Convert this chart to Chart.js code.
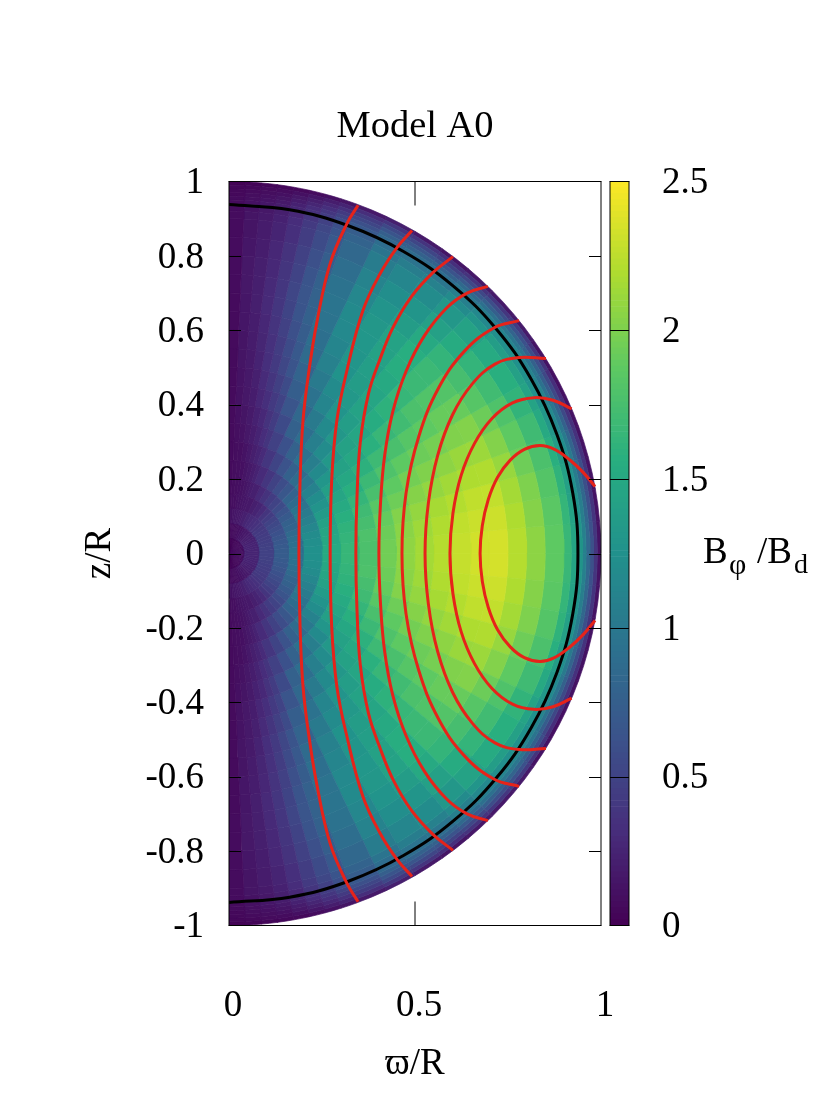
<!DOCTYPE html>
<html><head><meta charset="utf-8">
<script src="https://cdn.jsdelivr.net/npm/chart.js@4"></script>
<style>
html,body{margin:0;padding:0;background:#fff;width:830px;height:1107px;overflow:hidden}
canvas{position:absolute;left:0;top:0}
.lab{position:absolute;font-family:"Liberation Serif",serif;color:#000;white-space:pre;line-height:1}
</style></head><body>
<canvas id="main" width="830" height="1107"></canvas>
<canvas id="bar" width="830" height="1107"></canvas>
<div class="lab" style="left:703px;top:532px;font-size:37px">B</div>
<div class="lab" style="left:729px;top:549px;font-size:30px">φ</div>
<div class="lab" style="left:757px;top:532px;font-size:37px">/B</div>
<div class="lab" style="left:794px;top:550px;font-size:28px">d</div>
<script>
const titleText = 'Model A0';
const xTitleText = 'ϖ/R';
const yTitleText = 'z/R';
const xTicks = [0, 0.5, 1];
const yTicks = [-1, -0.8, -0.6, -0.4, -0.2, 0, 0.2, 0.4, 0.6, 0.8, 1];
const cbTicks = [0, 0.5, 1, 1.5, 2, 2.5];
const viridis = ['#440154','#472d7b','#3b528b','#2c728e','#21918c','#28ae80','#5ec962','#addc30','#fde725'];

// radial cell edges (r/R)
const ringEdges = [0,.04,.08,.12,.16,.2,.25,.3,.35,.4,.45,.5,.55,.6,.65,.7,.75,.8,.85,.9,.92,.94,.95,.96,.97,.98,.99,1];
// polar-angle cell edges, degrees from the +z axis
const sectorEdges = [0,2.5,5,7.5,10,12.5,15,17.5,20,25,30,35,40,45,50,55,60,65,70,75,80,85,90];
// B_phi/B_d read per sector (rows) and ring (columns)
const fieldCells = [
[.03,.07,.12,.09,.08,.07,.07,.07,.07,.07,.07,.07,.07,.07,.07,.08,.08,.08,.08,.08,.08,.07,.07,.06,.05,.04,.02],
[.03,.07,.13,.1,.09,.09,.09,.1,.11,.12,.13,.14,.14,.15,.15,.16,.16,.15,.14,.14,.12,.11,.1,.09,.07,.05,.03],
[.03,.08,.14,.1,.1,.1,.1,.12,.14,.16,.17,.18,.19,.2,.21,.21,.21,.2,.19,.18,.16,.15,.13,.11,.09,.07,.04],
[.03,.08,.15,.12,.11,.11,.13,.16,.18,.2,.22,.24,.26,.27,.29,.29,.28,.27,.25,.23,.21,.19,.17,.14,.11,.08,.05],
[.04,.09,.16,.13,.12,.14,.17,.2,.23,.27,.3,.33,.35,.37,.39,.39,.38,.36,.33,.31,.28,.26,.23,.19,.16,.11,.06],
[.04,.09,.17,.14,.14,.17,.21,.25,.28,.33,.38,.42,.45,.48,.51,.52,.5,.48,.45,.42,.38,.34,.31,.26,.21,.15,.08],
[.04,.1,.18,.15,.17,.2,.25,.31,.36,.42,.47,.53,.57,.61,.64,.65,.64,.61,.57,.53,.48,.44,.39,.33,.27,.2,.11],
[.04,.1,.2,.16,.2,.24,.3,.38,.44,.5,.57,.64,.69,.73,.77,.78,.77,.74,.69,.64,.6,.56,.49,.42,.34,.25,.14],
[.05,.11,.22,.17,.22,.3,.39,.48,.56,.65,.74,.8,.87,.91,.95,.96,.94,.9,.84,.79,.73,.68,.61,.52,.44,.32,.17],
[.05,.13,.26,.21,.29,.39,.51,.62,.77,.84,.94,1.02,1.09,1.13,1.17,1.18,1.15,1.11,1.04,.96,.89,.83,.75,.64,.54,.39,.21],
[.06,.15,.29,.25,.36,.49,.63,.78,.91,1.02,1.13,1.19,1.27,1.29,1.31,1.32,1.28,1.22,1.14,1.05,.95,.88,.77,.65,.52,.37,.17],
[.06,.17,.32,.3,.44,.58,.77,.93,1.07,1.18,1.28,1.33,1.37,1.39,1.42,1.43,1.37,1.29,1.2,1.09,.97,.89,.77,.63,.49,.33,.14],
[.07,.18,.35,.38,.5,.67,.88,1.06,1.2,1.32,1.38,1.43,1.47,1.51,1.55,1.56,1.51,1.41,1.32,1.19,1.07,.97,.85,.69,.53,.36,.16],
[.07,.2,.38,.44,.57,.79,1,1.18,1.33,1.42,1.47,1.54,1.6,1.65,1.68,1.68,1.63,1.53,1.43,1.29,1.16,1.05,.92,.75,.58,.39,.17],
[.08,.21,.41,.5,.64,.87,1.1,1.3,1.42,1.49,1.58,1.66,1.71,1.77,1.8,1.81,1.74,1.63,1.52,1.38,1.23,1.12,.98,.8,.62,.42,.18],
[.08,.22,.42,.54,.7,.96,1.21,1.4,1.49,1.59,1.69,1.76,1.83,1.87,1.91,1.91,1.83,1.71,1.57,1.41,1.25,1.11,.96,.77,.58,.36,.13],
[.08,.23,.44,.58,.77,1.03,1.28,1.47,1.57,1.68,1.79,1.87,1.93,1.97,2.01,2.02,1.93,1.79,1.62,1.44,1.26,1.12,.93,.73,.53,.32,.11],
[.09,.24,.45,.62,.8,1.09,1.36,1.52,1.64,1.76,1.87,1.96,2.01,2.06,2.11,2.12,2.02,1.87,1.7,1.51,1.32,1.17,.98,.77,.55,.34,.12],
[.09,.24,.46,.65,.86,1.15,1.42,1.57,1.7,1.84,1.94,2.03,2.09,2.14,2.19,2.2,2.1,1.94,1.77,1.57,1.37,1.22,1.02,.8,.57,.35,.12],
[.1,.25,.47,.68,.9,1.2,1.47,1.61,1.74,1.9,2.02,2.09,2.16,2.21,2.26,2.27,2.15,2,1.82,1.61,1.41,1.25,1.04,.82,.59,.36,.12],
[.1,.25,.48,.7,.92,1.23,1.49,1.63,1.78,1.93,2.05,2.13,2.2,2.26,2.3,2.31,2.19,2.03,1.85,1.64,1.43,1.27,1.06,.83,.6,.37,.13],
[.1,.25,.48,.72,.95,1.25,1.52,1.65,1.77,1.95,2.07,2.15,2.22,2.28,2.33,2.34,2.22,2.06,1.87,1.66,1.45,1.29,1.08,.84,.61,.37,.13]
];

// field lines (upper half, mirrored across the equator)
const line1X = [.188,.191,.199,.215,.237,.272,.317,.347];
const line1Z = [0,.196,.358,.492,.626,.78,.887,.936];
const line2X = [.272,.276,.29,.317,.36,.405,.452,.492];
const line2Z = [0,.196,.358,.492,.653,.75,.823,.868];
const line3X = [.341,.344,.353,.375,.405,.441,.49,.548,.602];
const line3Z = [0,.15,.3,.43,.52,.608,.69,.755,.798];
const line4X = [.403,.407,.418,.44,.476,.525,.585,.64,.696];
const line4Z = [0,.13,.26,.38,.49,.585,.66,.7,.718];
const line5X = [.465,.476,.51,.563,.633,.713,.78];
const line5Z = [0,.163,.314,.444,.544,.607,.626];
const line6X = [.527,.536,.561,.601,.654,.715,.78,.852];
const line6Z = [0,.136,.264,.373,.456,.509,.527,.524];
const line7X = [.594,.602,.624,.66,.707,.762,.82,.871,.921];
const line7Z = [0,.108,.21,.296,.363,.405,.419,.412,.389];
const line8X = [.675,.681,.697,.722,.756,.794,.836,.875,.918,.952,.984];
const line8Z = [0,.075,.145,.205,.251,.28,.29,.28,.25,.218,.18];
const redLines = [[line1X,line1Z],[line2X,line2Z],[line3X,line3Z],[line4X,line4Z],[line5X,line5Z],[line6X,line6Z],[line7X,line7Z],[line8X,line8Z]];
const blackX = [0,.163,.321,.469,.603,.719,.812,.881,.924,.938];
const blackZ = [.938,.924,.881,.812,.719,.603,.469,.321,.163,0];

function hex(h){return [1,3,5].map(i=>parseInt(h.substr(i,2),16));}
function colour(v){
  const t=Math.max(0,Math.min(1,v/2.5))*(viridis.length-1);
  const i=Math.min(viridis.length-2,Math.floor(t)),f=t-i;
  const a=hex(viridis[i]),b=hex(viridis[i+1]);
  return 'rgb('+a.map((c,k)=>Math.round(c+(b[k]-c)*f)).join(',')+')';
}
const FONT='"Liberation Serif"';
const FS=37;

const datasets=[];
{
  const up=blackX.map((x,i)=>({x,y:blackZ[i]}));
  const down=up.slice(0,-1).reverse().map(p=>({x:p.x,y:-p.y}));
  datasets.push({label:'crust',data:up.concat(down),showLine:true,pointRadius:0,borderColor:'#000',borderWidth:3,tension:.4,fill:false});
}
redLines.forEach((l,k)=>{
  const up=l[0].map((x,i)=>({x,y:l[1][i]})).reverse();
  const down=l[0].slice(1).map((x,i)=>({x,y:-l[1][i+1]}));
  datasets.unshift({label:'field line '+(k+1),data:up.concat(down),showLine:true,pointRadius:0,borderColor:'#e6231a',borderWidth:3,tension:.4,fill:false});
});
[1,-1].forEach(sign=>{
  fieldCells.forEach((row,s)=>{
    const t0=sectorEdges[s]*Math.PI/180,t1=sectorEdges[s+1]*Math.PI/180,tm=(t0+t1)/2;
    row.forEach((v,k)=>{
      const r0=ringEdges[k],r1=ringEdges[k+1];
      const pt=(r,t)=>({x:r*Math.sin(t),y:sign*r*Math.cos(t)});
      const c=colour(v);
      datasets.push({data:[pt(r1,t0),pt(r1,tm),pt(r1,t1),pt(r0,t1),pt(r0,tm),pt(r0,t0),pt(r1,t0)],
        showLine:true,pointRadius:0,borderColor:c,backgroundColor:c,borderWidth:.7,tension:0,fill:'shape'});
    });
  });
});

function frame(ctx,a){
  ctx.save();ctx.strokeStyle='#000';ctx.lineWidth=1;
  ctx.beginPath();
  ctx.moveTo(a.left,a.top);ctx.lineTo(a.left,a.bottom);
  ctx.moveTo(a.right,a.top);ctx.lineTo(a.right,a.bottom);
  ctx.moveTo(a.left-.5,a.top);ctx.lineTo(a.right+.5,a.top);
  ctx.moveTo(a.left-.5,a.bottom);ctx.lineTo(a.right+.5,a.bottom);
  ctx.stroke();ctx.restore();
}
const mainDeco={id:'mainDeco',afterDatasetsDraw(ch){
  const c=ch.ctx,a=ch.chartArea;
  c.save();c.strokeStyle='#000';c.lineWidth=1;c.beginPath();
  ch.scales.y.ticks.forEach(t=>{
    if(t.value===1||t.value===-1)return;
    const y=Math.round(ch.scales.y.getPixelForValue(t.value))+.5;
    c.moveTo(a.left,y);c.lineTo(a.left+12,y);c.moveTo(a.right,y);c.lineTo(a.right-12,y);
  });
  c.stroke();c.beginPath();
  ch.scales.x.ticks.forEach(t=>{
    if(t.value===0||t.value===1)return;
    const x=Math.round(ch.scales.x.getPixelForValue(t.value));
    c.moveTo(x,a.top);c.lineTo(x,a.top+24);c.moveTo(x,a.bottom);c.lineTo(x,a.bottom-24);
  });
  c.stroke();c.restore();
  frame(c,a);
}};
new Chart(document.getElementById('main'),{
  type:'scatter',
  data:{datasets},
  plugins:[mainDeco],
  options:{
    responsive:false,animation:false,events:[],
    layout:{padding:0},
    plugins:{legend:{display:false},tooltip:{enabled:false},
      title:{display:true,text:titleText,color:'#000',font:{family:FONT,size:38.5,weight:'normal'},padding:{top:104,bottom:31.3}}},
    scales:{
      x:{type:'linear',min:0,max:1,
        afterBuildTicks:s=>{s.ticks=xTicks.map(v=>({value:v}));},
        afterFit:s=>{s.height=181.5;},
        grid:{display:false},border:{display:false},
        ticks:{color:'#000',font:{family:FONT,size:FS},padding:51,labelOffset:4,maxRotation:0,callback:v=>String(v)},
        title:{display:true,text:xTitleText,color:'#000',font:{family:FONT,size:FS},padding:{top:0,bottom:21}}},
      y:{type:'linear',min:-1,max:1,
        afterBuildTicks:s=>{s.ticks=yTicks.map(v=>({value:v}));},
        afterFit:s=>{s.width=229;},
        grid:{display:false},border:{display:false},
        ticks:{color:'#000',font:{family:FONT,size:FS},padding:17,labelOffset:2,callback:v=>String(v)},
        title:{display:true,text:yTitleText,color:'#000',font:{family:FONT,size:FS},padding:{top:78,bottom:0}}},
      spacer:{type:'linear',position:'right',min:0,max:1,
        afterFit:s=>{s.width=229;},
        grid:{display:false},border:{display:false},ticks:{display:false}}
    }
  }
});

const cbStep=0.02, cbMax=2.5;
const cbSets=[];
for(let i=0;i<Math.round(cbMax/cbStep);i++){
  cbSets.push({data:[cbStep],backgroundColor:colour((i+.5)*cbStep),stack:'cb',barPercentage:1,categoryPercentage:1,borderWidth:0});
}
const barDeco={id:'barDeco',afterDatasetsDraw(ch){
  const c=ch.ctx,a=ch.chartArea;
  c.save();c.strokeStyle='#000';c.lineWidth=1;c.beginPath();
  ch.scales.y.ticks.forEach(t=>{
    if(t.value===0||t.value===2.5)return;
    const y=Math.round(ch.scales.y.getPixelForValue(t.value))+.5;
    c.moveTo(a.left,y);c.lineTo(a.right,y);
  });
  c.stroke();c.restore();
  frame(c,a);
}};
new Chart(document.getElementById('bar'),{
  type:'bar',
  data:{labels:[''],datasets:cbSets},
  plugins:[barDeco],
  options:{
    responsive:false,animation:false,events:[],
    layout:{padding:{left:610,right:0,top:181.5,bottom:181.5}},
    plugins:{legend:{display:false},tooltip:{enabled:false},title:{display:false}},
    scales:{
      x:{stacked:true,display:false,grid:{display:false}},
      y:{stacked:true,position:'right',min:0,max:2.5,
        afterBuildTicks:s=>{s.ticks=cbTicks.map(v=>({value:v}));},
        afterFit:s=>{s.width=201;},
        grid:{display:false},border:{display:false},
        ticks:{color:'#000',font:{family:FONT,size:FS},padding:25,labelOffset:2,callback:v=>String(v)}}
    }
  }
});
</script>
</body></html>
